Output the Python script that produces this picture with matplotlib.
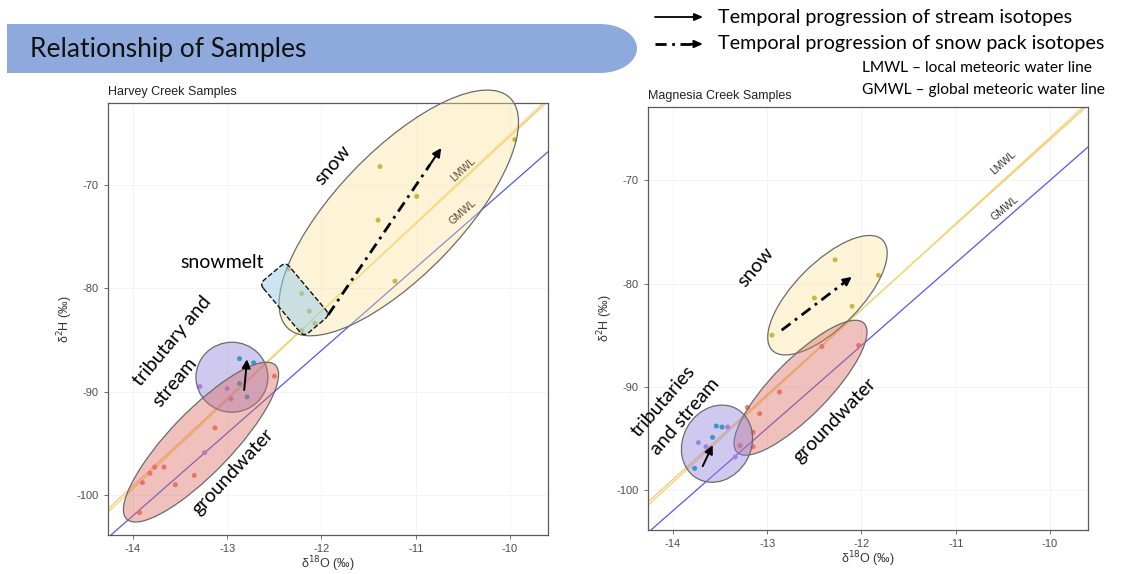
import numpy as np
import matplotlib
matplotlib.use('Agg')
import matplotlib.pyplot as plt
from matplotlib.patches import Ellipse, FancyBboxPatch, Rectangle
import matplotlib.transforms as mtransforms

plt.rcParams['axes.unicode_minus'] = False

# ---- data ----
# Harvey Creek
harvey_snow_x = [-9.95, -11.38, -10.99, -11.40, -11.22, -12.35, -12.21, -12.13, -12.07, -12.21]
harvey_snow_y = [-65.6, -68.2, -71.1, -73.4, -79.3, -78.1, -80.5, -82.2, -83.4, -84.1]
harvey_stream_x = [-12.87, -12.72, -12.87, -12.79]
harvey_stream_y = [-86.8, -87.2, -89.2, -90.5]
harvey_trib_x = [-13.29, -13.00, -13.24]
harvey_trib_y = [-89.5, -89.7, -95.9]
harvey_gw_x = [-12.96, -12.50, -13.13, -13.67, -13.77, -13.82, -13.90, -13.35, -13.55, -13.93]
harvey_gw_y = [-90.7, -88.5, -93.5, -97.3, -97.3, -97.9, -98.8, -98.1, -99.0, -101.7]

# Magnesia Creek
magnesia_snow_x = [-12.28, -11.82, -12.50, -12.10, -12.95]
magnesia_snow_y = [-77.7, -79.2, -81.4, -82.2, -85.0]
magnesia_stream_x = [-13.54, -13.48, -13.58, -13.77]
magnesia_stream_y = [-93.8, -93.9, -94.9, -97.9]
magnesia_trib_x = [-13.42, -13.73, -13.65, -13.34]
magnesia_trib_y = [-93.9, -95.4, -95.8, -96.8]
magnesia_gw_x = [-12.42, -12.03, -12.87, -13.21, -13.08, -13.15, -13.29, -13.15]
magnesia_gw_y = [-86.1, -86.0, -90.5, -92.0, -92.6, -94.4, -95.7, -95.8]

# water lines (slope, intercept)
gmwl = [8.0, 10.0]
harvey_lmwl = [8.57, 20.6]
magnesia_lmwl = [8.35, 17.65]

xticks = [-14, -13, -12, -11, -10]
yticks = [-100, -90, -80, -70]

# ---- figure ----
W, H = 1123, 574
fig = plt.figure(figsize=(W / 100, H / 100), dpi=100)
ax_l = fig.add_axes([108 / W, 1 - 535 / H, 440 / W, 432 / H])
ax_r = fig.add_axes([648 / W, 1 - 530 / H, 440 / W, 423 / H])

c_red = '#F8766D'
c_olive = '#A3A500'
c_teal = '#00A9B8'
c_purple = '#B77CF0'

sans = 'Liberation Sans'
slide = 'Lato'


def style(ax, title, ylim):
    ax.set_xlim(-14.265, -9.597)
    ax.set_ylim(*ylim)
    ax.set_xticks(xticks)
    ax.set_yticks(yticks)
    ax.grid(color='#f2f2f2', lw=0.6)
    ax.set_axisbelow(True)
    for s in ax.spines.values():
        s.set_color('#5a5a5a')
        s.set_linewidth(0.9)
    ax.tick_params(length=3, width=0.6, colors='#5a5a5a', labelsize=8, labelcolor='#4d4d4d')
    for lab in ax.get_xticklabels() + ax.get_yticklabels():
        lab.set_family(sans)
    ax.set_xlabel('δ$^{18}$O (‰)', fontsize=9, color='#333333', labelpad=0.5, family=sans)
    ax.set_ylabel('δ$^{2}$H (‰)', fontsize=9, color='#333333', labelpad=1, family=sans)
    ax.set_title(title, loc='left', fontsize=9, color='#222222', pad=6, family=sans)


def water_lines(ax, lmwl):
    xs = np.array([-14.5, -9.4])
    ax.plot(xs, (lmwl[0] - 0.12) * xs + lmwl[1] - 1.4, color='#F6BE78', lw=0.8, zorder=1.5)
    ax.plot(xs, lmwl[0] * xs + lmwl[1], color='#F2D86A', lw=1.0, zorder=1.6)
    ax.plot(xs, gmwl[0] * xs + gmwl[1], color='#5B55E6', lw=0.9, zorder=1.5)


def points(ax, groups):
    for xs, ys, c in groups:
        ax.scatter(xs, ys, s=13, color=c, edgecolors='none', zorder=2)


def blob(ax, x, y, w, h, ang, fc, ls='-', box=False):
    tr = fig.dpi_scale_trans + mtransforms.ScaledTranslation(x, y, ax.transData)
    if box:
        p = FancyBboxPatch((-w / 200, -h / 200), w / 100, h / 100,
                           boxstyle='round,pad=0,rounding_size=0.06',
                           transform=mtransforms.Affine2D().rotate_deg(ang) + tr,
                           fc=fc, ec='#111111', lw=1.0, ls=ls, clip_on=False, zorder=3.2)
    else:
        p = Ellipse((0, 0), w / 100, h / 100, angle=ang, transform=tr,
                    fc=fc, ec='#6b6b6b', lw=0.9, clip_on=False, zorder=3)
    ax.add_artist(p)


def label(ax, x, y, s, rot, size=14):
    ax.text(x, y, s, rotation=rot, ha='center', va='center', fontsize=size,
            family=slide, color='black', clip_on=False, zorder=5,
            rotation_mode='anchor')


def arrow(ax, x0, y0, x1, y1, dashdot=False):
    fx = x0 + 0.9 * (x1 - x0)
    fy = y0 + 0.9 * (y1 - y0)
    if dashdot:
        ax.plot([x0, fx], [y0, fy], color='black', lw=2.0, ls=(0, (4, 2, 1, 2)),
                zorder=5, clip_on=False, solid_capstyle='butt')
        ax.annotate('', xy=(x1, y1), xytext=(fx, fy),
                    arrowprops=dict(arrowstyle='-|>,head_length=0.5,head_width=0.25',
                                    color='black', lw=1.5, shrinkA=0, shrinkB=0), zorder=5)
    else:
        ax.annotate('', xy=(x1, y1), xytext=(x0, y0),
                    arrowprops=dict(arrowstyle='-|>,head_length=0.5,head_width=0.25',
                                    color='black', lw=1.4, shrinkA=0, shrinkB=0), zorder=5)


snow_fc = (0.98, 0.89, 0.60, 0.38)
gw_fc = (0.85, 0.42, 0.38, 0.42)
trib_fc = (0.56, 0.50, 0.86, 0.42)
melt_fc = (0.60, 0.80, 0.90, 0.5)

# ---- Harvey Creek ----
style(ax_l, 'Harvey Creek Samples', (-103.87, -62.06))
water_lines(ax_l, harvey_lmwl)
points(ax_l, [(harvey_snow_x, harvey_snow_y, c_olive), (harvey_gw_x, harvey_gw_y, c_red),
              (harvey_stream_x, harvey_stream_y, c_teal), (harvey_trib_x, harvey_trib_y, c_purple)])
blob(ax_l, -11.18, -72.7, 320, 124, 46, snow_fc)
blob(ax_l, -12.284, -81.06, 69, 34, -50, melt_fc, ls='--', box=True)
blob(ax_l, -12.95, -88.6, 72, 70, 0, trib_fc)
blob(ax_l, -13.278, -94.88, 214, 62, 46, gw_fc)
arrow(ax_l, -11.93, -82.58, -10.73, -66.42, dashdot=True)
arrow(ax_l, -12.82, -89.84, -12.79, -86.87)
label(ax_l, -11.878, -68.06, 'snow', 50)
label(ax_l, -13.056, -77.45, 'snowmelt', 0)
label(ax_l, -13.586, -85.1, 'tributary and', 50)
label(ax_l, -13.554, -89.07, 'stream', 50)
label(ax_l, -12.944, -97.73, 'groundwater', 47)
ax_l.text(-10.5, -68.55, 'LMWL', rotation=43, ha='center', va='center', fontsize=7.5,
          family=sans, color='#5a4a2a', rotation_mode='anchor', zorder=5)
ax_l.text(-10.5, -72.61, 'GMWL', rotation=41, ha='center', va='center', fontsize=7.5,
          family=sans, color='#5a4a2a', rotation_mode='anchor', zorder=5)

# ---- Magnesia Creek ----
style(ax_r, 'Magnesia Creek Samples', (-103.87, -62.9))
water_lines(ax_r, magnesia_lmwl)
points(ax_r, [(magnesia_snow_x, magnesia_snow_y, c_olive), (magnesia_gw_x, magnesia_gw_y, c_red),
              (magnesia_stream_x, magnesia_stream_y, c_teal), (magnesia_trib_x, magnesia_trib_y, c_purple)])
blob(ax_r, -12.361, -81.13, 156, 65, 45, snow_fc)
blob(ax_r, -12.647, -90.09, 181, 56, 45.5, gw_fc)
blob(ax_r, -13.533, -95.51, 80, 68, 60, trib_fc)
arrow(ax_r, -12.847, -84.52, -12.104, -79.36, dashdot=True)
arrow(ax_r, -13.685, -97.69, -13.579, -95.65)
label(ax_r, -13.119, -78.42, 'snow', 50)
label(ax_r, -14.106, -91.39, 'tributaries', 49)
label(ax_r, -13.873, -92.85, 'and stream', 49)
label(ax_r, -12.281, -93.23, 'groundwater', 46)
ax_r.text(-10.5, -68.26, 'LMWL', rotation=42, ha='center', va='center', fontsize=7.5,
          family=sans, color='#333333', rotation_mode='anchor', zorder=5)
ax_r.text(-10.48, -72.71, 'GMWL', rotation=40, ha='center', va='center', fontsize=7.5,
          family=sans, color='#333333', rotation_mode='anchor', zorder=5)

# ---- slide header (pixel overlay) ----
ov = fig.add_axes([0, 0, 1, 1], zorder=-1)
ov.set_xlim(0, W)
ov.set_ylim(H, 0)
ov.axis('off')
banner = '#8EAADC'
ov.add_patch(Rectangle((7, 24), 593, 49, fc=banner, ec='none'))
ov.add_patch(Ellipse((600, 48.5), 74, 49, fc=banner, ec='none'))
ov.text(30, 49, 'Relationship of Samples', fontsize=19, family=slide, va='center', ha='left', color='#111111')

ov.annotate('', xy=(703, 17), xytext=(655, 17),
            arrowprops=dict(arrowstyle='-|>,head_length=0.5,head_width=0.22', color='black', lw=1.3,
                            shrinkA=0, shrinkB=0))
ov.plot([655, 692], [44, 44], color='black', lw=2.0, ls=(0, (4, 2, 1, 2)))
ov.annotate('', xy=(703, 44), xytext=(690, 44),
            arrowprops=dict(arrowstyle='-|>,head_length=0.5,head_width=0.22', color='black', lw=1.5,
                            shrinkA=0, shrinkB=0))
ov.text(718, 17, 'Temporal progression of stream isotopes', fontsize=14.2, family=slide, va='center')
ov.text(718, 44, 'Temporal progression of snow pack isotopes', fontsize=14.2, family=slide, va='center')
ov.text(862, 68, 'LMWL – local meteoric water line', fontsize=11.2, family=slide, va='center')
ov.text(862, 90, 'GMWL – global meteoric water line', fontsize=11.2, family=slide, va='center')

fig.savefig('out.png', dpi=100)
